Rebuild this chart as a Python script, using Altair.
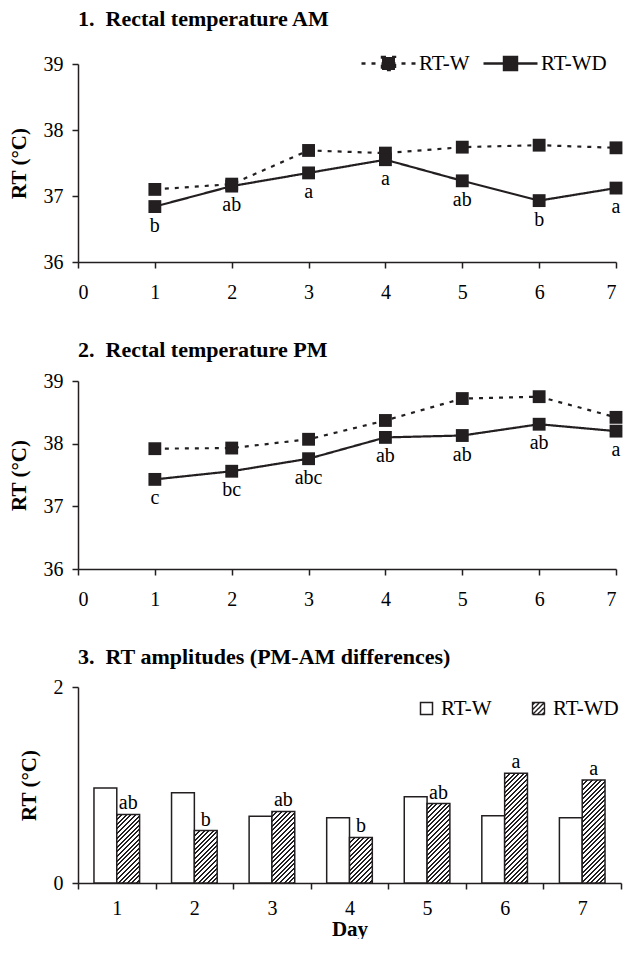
import altair as alt
import pandas as pd

# ---------------- data ----------------
days = [1, 2, 3, 4, 5, 6, 7]
series_names = ["RT-W", "RT-WD"]

am_w = [37.10, 37.18, 37.69, 37.65, 37.74, 37.77, 37.73]
am_wd = [36.84, 37.15, 37.35, 37.55, 37.23, 36.93, 37.12]
am_letters = ["b", "ab", "a", "a", "ab", "b", "a"]

pm_w = [37.92, 37.93, 38.07, 38.37, 38.72, 38.75, 38.42]
pm_wd = [37.43, 37.56, 37.76, 38.10, 38.13, 38.31, 38.20]
pm_letters = ["c", "bc", "abc", "ab", "ab", "ab", "a"]

amp_w = [0.97, 0.92, 0.68, 0.665, 0.88, 0.685, 0.665]
amp_wd = [0.70, 0.535, 0.73, 0.465, 0.81, 1.12, 1.05]
amp_letters = ["ab", "b", "ab", "b", "ab", "a", "a"]

titles = ["1.\u00a0 Rectal temperature AM",
          "2.\u00a0 Rectal temperature PM",
          "3.\u00a0 RT amplitudes (PM-AM differences)"]
y_title = "RT (°C)"
x_title = "Day"

# ---------------- style ----------------
FONT = "Liberation Serif"
INK = "#231f20"
W_LINE = 538
H1, H2, H3 = 198, 188, 196
W_BAR = 543
OFF_PAD = 0.7
BAR_PX = (W_BAR / 7) / (2 + 2 * OFF_PAD)
PX_PER_UNIT3 = H3 / 2.0
HATCH_PERIOD = 4.6
HATCH_BLACK = 0.42
TITLE_SIZE = 22
LABEL_SIZE = 20


def hatch(w, h):
    """Diagonal '/' hatch made of a hard-stop linear gradient (bbox units)."""
    r = w / h
    s = (r + 1) / (r * r + 1)
    n = (w + h) / HATCH_PERIOD
    stops = []
    k = 0
    while k / n < 1:
        a = round(k / n, 5)
        b = round(min((k + HATCH_BLACK) / n, 1), 5)
        c = round(min((k + 1) / n, 1), 5)
        stops += [{"offset": a, "color": INK}, {"offset": b, "color": INK},
                  {"offset": b, "color": "white"}, {"offset": c, "color": "white"}]
        k += 1
    return {"gradient": "linear", "x1": 0, "y1": 0, "x2": round(s * r, 5), "y2": round(s, 5),
            "stops": stops}


def hatched_square_path(step=0.8):
    """Unit square outline plus '/' hatch strokes, as an SVG path for a legend symbol."""
    parts = ["M-1,-1H1V1H-1Z"]
    c = -2 + step / 2
    while c < 2:
        x0, x1 = max(-1, c - 1), min(1, c + 1)
        parts.append(f"M{x0:.3f},{c - x0:.3f}L{x1:.3f},{c - x1:.3f}")
        c += step
    return "".join(parts)


LEG_PATH = "M-1,0H1M-0.24,-0.24H0.24V0.24H-0.24Z"


def title_params(text, offset):
    return alt.TitleParams(text, anchor="start", frame="group", font=FONT,
                           fontSize=TITLE_SIZE, fontWeight="bold", color="black",
                           offset=offset)


def line_panel(w_vals, wd_vals, letters, title, height, show_legend, toff):
    df = pd.DataFrame({
        "day": days * 2,
        "rt": w_vals + wd_vals,
        "series": [series_names[0]] * 7 + [series_names[1]] * 7,
    })
    lab = pd.DataFrame({"day": days, "rt": wd_vals, "letter": letters})
    x = alt.X("day:Q", scale=alt.Scale(domain=[0, 7], nice=False),
              axis=alt.Axis(values=list(range(8)), format="d", title=None, labelPadding=14))
    y = alt.Y("rt:Q", scale=alt.Scale(domain=[36, 39], nice=False, zero=False),
              axis=alt.Axis(values=[36, 37, 38, 39], format="d", title=y_title))
    if show_legend:
        legend = alt.Legend(
            title=None, orient="none", legendX=282, legendY=-29,
            direction="horizontal", gridAlign="none",
            symbolType=LEG_PATH, symbolSize=2916,
            symbolStrokeWidth=2.5, symbolFillColor=INK, symbolStrokeColor=INK,
            symbolOpacity=1, labelFont=FONT, labelFontSize=21,
            labelColor="black", labelOffset=2, columnPadding=8,
        )
    else:
        legend = None
    lines = alt.Chart(df).mark_line(color=INK, strokeWidth=2.2).encode(
        x=x, y=y,
        strokeDash=alt.StrokeDash("series:N",
                                  scale=alt.Scale(domain=series_names, range=[[4, 6], [1, 0]]),
                                  legend=legend),
    )
    points = alt.Chart(df).mark_point(shape="square", filled=True, size=165,
                                      color=INK, opacity=1).encode(
        x=x, y=y, detail="series:N")
    text = alt.Chart(lab).mark_text(font=FONT, fontSize=LABEL_SIZE, dy=19, color="black").encode(
        x="day:Q", y="rt:Q", text="letter:N")
    return alt.layer(lines, points, text).properties(
        width=W_LINE, height=height, title=title_params(title, toff))


c1 = line_panel(am_w, am_wd, am_letters, titles[0], H1, True, 4)
c2 = line_panel(pm_w, pm_wd, pm_letters, titles[1], H2, False, 9)

# ---------------- bar panel ----------------
records = []
for d, v in zip(days, amp_w):
    records.append({"day": d, "series": series_names[0], "grp": series_names[0], "amp": v,
                    "fill": "white", "letter": ""})
for d, v, l in zip(days, amp_wd, amp_letters):
    records.append({"day": d, "series": series_names[1], "grp": series_names[1], "amp": v,
                    "fill": hatch(BAR_PX, v * PX_PER_UNIT3), "letter": l})
bar_data = alt.Data(values=records)

bx = alt.X("day:O", scale=alt.Scale(paddingInner=0, paddingOuter=0),
           axis=alt.Axis(tickBand="extent", labelAngle=0, title=x_title,
                         labelPadding=9, titlePadding=0, titleFontSize=21))
bxo = alt.XOffset("series:N", scale=alt.Scale(domain=series_names, paddingInner=0,
                                              paddingOuter=OFF_PAD))
by = alt.Y("amp:Q", stack=None, scale=alt.Scale(domain=[0, 2], nice=False),
           axis=alt.Axis(values=[0, 1, 2], format="d", title=y_title))

base = alt.Chart(bar_data)
bars_w = base.transform_filter(alt.datum.series == series_names[0]).mark_bar(
    stroke=INK, strokeWidth=1.5).encode(
    x=bx, xOffset=bxo, y=by,
    fill=alt.Fill("fill:N", scale=None),
    opacity=alt.Opacity("series:N", scale=alt.Scale(domain=[series_names[0]], range=[1]),
                        legend=alt.Legend(
                            title=None, orient="none", legendX=338, legendY=11,
                            symbolType="square", symbolSize=144,
                            symbolFillColor="white", symbolStrokeColor=INK,
                            symbolStrokeWidth=1.5, symbolOpacity=1,
                            labelFont=FONT, labelFontSize=21, labelColor="black",
                            labelOffset=4)),
)
bars_wd = base.transform_filter(alt.datum.series == series_names[1]).mark_bar(
    stroke=INK, strokeWidth=1.5).encode(
    x=bx, xOffset=bxo, y=by,
    fill=alt.Fill("fill:N", scale=None),
    strokeDash=alt.StrokeDash("grp:N",
                              scale=alt.Scale(domain=[series_names[1]], range=[[1, 0]]),
                              legend=alt.Legend(
                                  title=None, orient="none", legendX=450, legendY=11,
                                  symbolType=hatched_square_path(), symbolSize=144,
                                  symbolFillColor="white", symbolStrokeColor=INK,
                                  symbolStrokeWidth=1.4, symbolOpacity=1,
                                  labelFont=FONT, labelFontSize=21,
                                  labelColor="black", labelOffset=4)),
)
bar_text = base.transform_filter(
    alt.datum.series == series_names[1]
).mark_text(font=FONT, fontSize=LABEL_SIZE, baseline="alphabetic", dy=-5, color="black").encode(
    x=bx, xOffset=bxo, y=by, text="letter:N")

c3 = alt.layer(bars_w, bars_wd, bar_text).properties(
    width=W_BAR, height=H3, title=title_params(titles[2], 8))

chart = alt.vconcat(c1, c2, c3, spacing=37).resolve_scale(
    strokeDash="independent", opacity="independent"
).properties(padding={"left": 0, "top": 0, "right": 0, "bottom": 0}).configure_axis(
    labelFont=FONT, labelFontSize=LABEL_SIZE, labelColor="black",
    titleFont=FONT, titleFontSize=21, titleFontWeight="bold", titleColor="black",
    domainColor=INK, domainWidth=1.5, tickColor=INK, tickWidth=1.5, tickSize=6,
    labelPadding=9, titlePadding=14, grid=False,
).configure_view(stroke=None)

chart.save("out.html", embed_options={"renderer": "svg", "actions": False})
